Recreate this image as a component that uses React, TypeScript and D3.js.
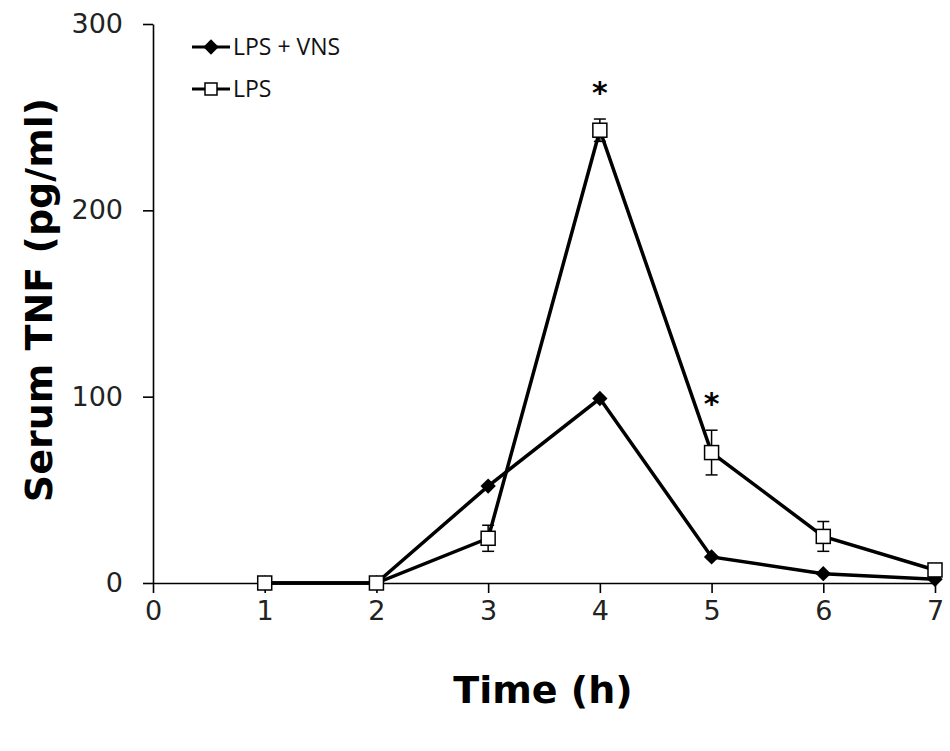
import * as d3 from 'd3';
import React, { useEffect, useRef } from 'react';

const hours = [1, 2, 3, 4, 5, 6, 7];
const lpsVns = [0, 0, 52, 99, 14, 5, 2];
const lps = [0, 0, 24, 243, 70, 25, 7];
const lpsErr = [2, 2, 7, 6, 12, 8, 0];
const starHours = [4, 5];
const xTicks = [0, 1, 2, 3, 4, 5, 6, 7];
const yTicks = [0, 100, 200, 300];

const App = () => {
  const svgRef = useRef<SVGSVGElement>(null);

  useEffect(() => {
    const width = 950;
    const height = 751;
    const margin = { top: 24, right: 15, bottom: 168, left: 153 };

    const x = d3.scaleLinear().domain([0, 7]).range([margin.left, width - margin.right]);
    const y = d3.scaleLinear().domain([0, 300]).range([height - margin.bottom, margin.top]);

    const svg = d3.select(svgRef.current);
    svg.selectAll('*').remove();
    svg.attr('width', width).attr('height', height);

    const font = 'DejaVu Sans, Verdana, sans-serif';

    // axes
    const yAxis = svg.append('g')
      .attr('transform', `translate(${margin.left},0)`)
      .call(d3.axisLeft(y).tickValues(yTicks).tickFormat(d3.format('d')).tickSize(10).tickPadding(20).tickSizeOuter(0));
    const xAxis = svg.append('g')
      .attr('transform', `translate(0,${y(0)})`)
      .call(d3.axisBottom(x).tickValues(xTicks).tickFormat(d3.format('d')).tickSize(10).tickPadding(8).tickSizeOuter(0));
    [xAxis, yAxis].forEach(g => {
      g.selectAll('path, line').attr('stroke', '#000').attr('stroke-width', 1.6);
      g.selectAll('text').attr('font-family', font).attr('font-size', 27).attr('fill', '#222');
    });

    // axis titles
    svg.append('text')
      .attr('x', 543).attr('y', 703)
      .attr('text-anchor', 'middle')
      .attr('font-family', font).attr('font-weight', 'bold').attr('font-size', 38)
      .text('Time (h)');
    svg.append('text')
      .attr('transform', 'translate(52,300) rotate(-90)')
      .attr('text-anchor', 'middle')
      .attr('font-family', font).attr('font-weight', 'bold').attr('font-size', 38)
      .text('Serum TNF (pg/ml)');

    const line = d3.line<number>()
      .x((_, i) => x(hours[i]))
      .y(d => y(d));

    // LPS error bars
    const errG = svg.append('g').attr('stroke', '#000').attr('stroke-width', 1.5);
    lps.forEach((v, i) => {
      if (!lpsErr[i]) return;
      const cx = x(hours[i]);
      errG.append('line').attr('x1', cx).attr('x2', cx).attr('y1', y(v + lpsErr[i])).attr('y2', y(v - lpsErr[i]));
      [v + lpsErr[i], v - lpsErr[i]].forEach(e => {
        errG.append('line').attr('x1', cx - 6).attr('x2', cx + 6).attr('y1', y(e)).attr('y2', y(e));
      });
    });

    // lines
    svg.append('path').datum(lpsVns)
      .attr('fill', 'none').attr('stroke', '#000').attr('stroke-width', 3.5)
      .attr('d', line);
    svg.append('path').datum(lps)
      .attr('fill', 'none').attr('stroke', '#000').attr('stroke-width', 3.5)
      .attr('d', line);

    const diamond = d3.symbol().type(d3.symbolDiamond2).size(150);

    // LPS + VNS markers
    svg.append('g').selectAll('path')
      .data(lpsVns)
      .enter()
      .append('path')
      .attr('transform', (d, i) => `translate(${x(hours[i])},${y(d)})`)
      .attr('d', diamond())
      .attr('fill', '#000');

    // LPS markers
    svg.append('g').selectAll('rect')
      .data(lps)
      .enter()
      .append('rect')
      .attr('x', (d, i) => x(hours[i]) - 7)
      .attr('y', d => y(d) - 7)
      .attr('width', 14).attr('height', 14)
      .attr('fill', '#fff').attr('stroke', '#000').attr('stroke-width', 1.5);

    // significance stars
    svg.append('g').selectAll('text')
      .data(starHours)
      .enter()
      .append('text')
      .attr('x', d => x(d))
      .attr('y', d => y(lps[hours.indexOf(d)] + lpsErr[hours.indexOf(d)]) - 16)
      .attr('text-anchor', 'middle')
      .attr('font-family', font).attr('font-weight', 'bold').attr('font-size', 30)
      .text('*');

    // legend
    const legendFont = 'Open Sans, sans-serif';
    const legend = svg.append('g').attr('transform', 'translate(192,47)');
    legend.append('line').attr('x1', 0).attr('x2', 38).attr('y1', 0).attr('y2', 0)
      .attr('stroke', '#000').attr('stroke-width', 3);
    legend.append('path').attr('transform', 'translate(19,0)').attr('d', diamond()).attr('fill', '#000');
    legend.append('text').attr('x', 41).attr('y', 0).attr('dy', '0.35em')
      .attr('font-family', legendFont).attr('font-size', 23).attr('fill', '#111').text('LPS + VNS');
    legend.append('line').attr('x1', 0).attr('x2', 38).attr('y1', 42).attr('y2', 42)
      .attr('stroke', '#000').attr('stroke-width', 3);
    legend.append('rect').attr('x', 13).attr('y', 36).attr('width', 12).attr('height', 12)
      .attr('fill', '#fff').attr('stroke', '#000').attr('stroke-width', 1.5);
    legend.append('text').attr('x', 41).attr('y', 42).attr('dy', '0.35em')
      .attr('font-family', legendFont).attr('font-size', 23).attr('fill', '#111').text('LPS');
  }, []);

  return <svg ref={svgRef} style={{ position: 'absolute', left: 0, top: 0 }}></svg>;
};

export default App;
